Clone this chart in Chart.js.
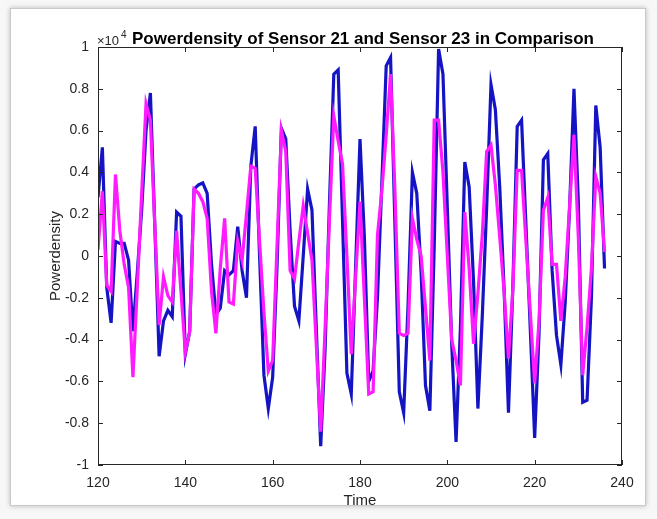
<!DOCTYPE html>
<html>
<head>
<meta charset="utf-8">
<script src="https://cdn.jsdelivr.net/npm/chart.js@4.4.1/dist/chart.umd.min.js"></script>
<style>
  html, body { margin: 0; padding: 0; background: #f7f7f7; }
  body { width: 657px; height: 519px; position: relative; overflow: hidden; }
  .frame {
    position: absolute; left: 10px; top: 8px; width: 634px; height: 496px;
    background: #fff; border: 1px solid #c9c9c9;
    box-shadow: 0 0 5px rgba(0,0,0,0.25); overflow: hidden;
  }
  canvas { position: absolute; left: -11px; top: -9px; }
</style>
</head>
<body>
<div class="frame"><canvas id="chart" width="657" height="519"></canvas></div>
<script>
// time steps (x)
const times = [
  120,121,122,123,124,125,126,127,128,129,130,131,132,133,134,135,136,137,138,139,
  140,141,142,143,144,145,146,147,148,149,150,151,152,153,154,155,156,157,158,159,
  160,161,162,163,164,165,166,167,168,169,170,171,172,173,174,175,176,177,178,179,
  180,181,182,183,184,185,186,187,188,189,190,191,192,193,194,195,196,197,198,199,
  200,201,202,203,204,205,206,207,208,209,210,211,212,213,214,215,216,217,218,219,
  220,221,222,223,224,225,226,227,228,229,230,231,232,233,234,235,236
];

// Sensor 21 (blue), units of 1e4
const sensor21 = [
  0.28,0.52,-0.15,-0.32,0.07,0.06,0.06,-0.02,-0.36,-0.08,0.22,0.60,0.78,0.15,-0.48,-0.31,-0.26,-0.29,0.21,0.19,
  -0.47,-0.36,0.32,0.34,0.35,0.30,-0.04,-0.28,-0.25,-0.07,-0.09,-0.07,0.14,-0.07,-0.20,0.43,0.62,0.00,-0.57,-0.73,
  -0.58,-0.05,0.61,0.56,0.12,-0.24,-0.31,0.00,0.32,0.22,-0.35,-0.91,-0.45,0.25,0.87,0.89,0.17,-0.56,-0.66,-0.05,
  0.56,0.09,-0.60,-0.55,-0.20,0.35,0.91,0.95,0.15,-0.65,-0.75,-0.24,0.40,0.30,-0.08,-0.62,-0.74,0.05,0.99,0.87,
  0.23,-0.42,-0.89,-0.34,0.45,0.33,-0.12,-0.73,-0.29,0.23,0.82,0.70,0.33,-0.16,-0.75,-0.15,0.62,0.65,0.15,-0.35,
  -0.87,-0.37,0.46,0.49,-0.07,-0.38,-0.52,-0.22,0.23,0.80,0.26,-0.70,-0.69,-0.20,0.72,0.52,-0.06
];

// Sensor 23 (magenta), units of 1e4
const sensor23 = [
  0.03,0.31,-0.14,-0.17,0.39,0.12,-0.04,-0.15,-0.58,-0.15,0.30,0.73,0.65,0.15,-0.33,-0.10,-0.19,-0.22,0.12,-0.17,
  -0.46,-0.36,0.32,0.30,0.26,0.18,-0.17,-0.37,-0.06,0.18,-0.22,-0.23,0.07,-0.02,0.20,0.43,0.42,0.07,-0.27,-0.55,
  -0.50,0.05,0.60,0.50,-0.07,-0.11,0.07,0.24,0.11,-0.02,-0.43,-0.84,-0.35,0.17,0.67,0.55,0.44,0.00,-0.47,-0.10,
  0.26,-0.20,-0.66,-0.65,0.10,0.31,0.58,0.87,0.31,-0.37,-0.38,-0.37,0.18,0.08,0.00,-0.25,-0.50,0.65,0.65,0.40,
  0.00,-0.40,-0.50,-0.62,0.21,-0.06,-0.42,-0.18,0.10,0.50,0.53,0.34,0.09,-0.17,-0.49,-0.16,0.41,0.41,0.07,-0.27,
  -0.61,-0.31,0.22,0.28,-0.04,-0.04,-0.31,-0.10,0.24,0.58,0.09,-0.57,-0.34,-0.06,0.38,0.30,0.02
];

const xTicks = [120, 140, 160, 180, 200, 220, 240];
const yTicks = [-1, -0.8, -0.6, -0.4, -0.2, 0, 0.2, 0.4, 0.6, 0.8, 1];

const FONT = '"Liberation Sans", Arial, Helvetica, sans-serif';
const INK = '#262626';

// MATLAB-like box, inward ticks, title and labels
const matlabAxes = {
  id: 'matlabAxes',
  afterDraw(chart) {
    const { ctx, chartArea: a, scales: { x, y } } = chart;
    ctx.save();
    ctx.strokeStyle = INK;
    ctx.lineWidth = 1;
    ctx.strokeRect(a.left + 0.5, a.top + 0.5, a.right - a.left - 1, a.bottom - a.top - 1);
    ctx.beginPath();
    xTicks.forEach(v => {
      const px = Math.round(x.getPixelForValue(v)) + 0.5;
      ctx.moveTo(px, a.bottom); ctx.lineTo(px, a.bottom - 5);
      ctx.moveTo(px, a.top); ctx.lineTo(px, a.top + 5);
    });
    yTicks.forEach(v => {
      const py = Math.round(y.getPixelForValue(v)) + 0.5;
      ctx.moveTo(a.left, py); ctx.lineTo(a.left + 5, py);
      ctx.moveTo(a.right, py); ctx.lineTo(a.right - 5, py);
    });
    ctx.stroke();

    ctx.fillStyle = '#000';
    ctx.textBaseline = 'alphabetic';
    ctx.textAlign = 'center';
    ctx.font = 'bold 17px ' + FONT;
    ctx.fillText('Powerdensity of Sensor 21 and Sensor 23 in Comparison', 363, 44);

    // exponent marker
    ctx.fillStyle = INK;
    ctx.textAlign = 'left';
    ctx.font = '13px ' + FONT;
    ctx.fillText('\u00d710', 97, 45);
    ctx.font = '10px ' + FONT;
    ctx.fillText('4', 121, 38);

    // axis titles
    ctx.font = '15px ' + FONT;
    ctx.textAlign = 'center';
    ctx.fillText('Time', (a.left + a.right) / 2, 505);
    ctx.translate(60, (a.top + a.bottom) / 2);
    ctx.rotate(-Math.PI / 2);
    ctx.fillText('Powerdensity', 0, 0);
    ctx.restore();
  }
};

new Chart(document.getElementById('chart'), {
  type: 'line',
  data: {
    datasets: [
      {
        label: 'Sensor 21',
        data: times.map((t, i) => ({ x: t, y: sensor21[i] })),
        borderColor: '#1414c4',
        borderWidth: 3.2,
        pointRadius: 0,
        tension: 0,
        order: 2
      },
      {
        label: 'Sensor 23',
        data: times.map((t, i) => ({ x: t, y: sensor23[i] })),
        borderColor: '#ff1aff',
        borderWidth: 3.2,
        pointRadius: 0,
        tension: 0,
        order: 1
      }
    ]
  },
  options: {
    responsive: false,
    animation: false,
    events: [],
    layout: { padding: { top: 47, right: 35, left: 0, bottom: 0 } },
    plugins: { legend: { display: false }, tooltip: { enabled: false }, title: { display: false } },
    scales: {
      x: {
        type: 'linear',
        min: 120, max: 240,
        afterFit: s => { s.height = 54; },
        afterBuildTicks: s => { s.ticks = xTicks.map(v => ({ value: v })); },
        grid: { display: false, drawTicks: false },
        border: { display: false },
        ticks: { color: INK, font: { family: FONT, size: 14 }, padding: 10, maxRotation: 0 }
      },
      y: {
        min: -1, max: 1,
        afterFit: s => { s.width = 98; },
        afterBuildTicks: s => { s.ticks = yTicks.map(v => ({ value: v })); },
        grid: { display: false, drawTicks: false },
        border: { display: false },
        ticks: {
          color: INK, font: { family: FONT, size: 14 }, padding: 9,
          callback: v => String(+v.toFixed(1))
        }
      }
    }
  },
  plugins: [matlabAxes]
});
</script>
</body>
</html>
